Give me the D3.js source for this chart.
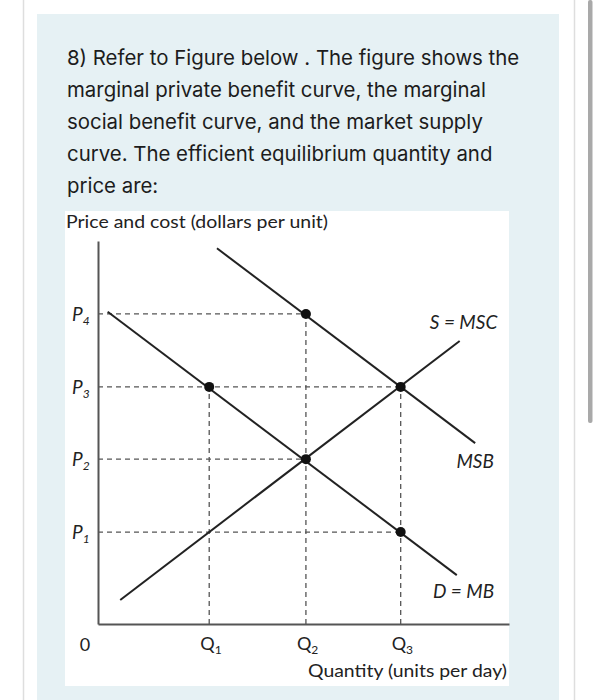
<!DOCTYPE html>
<html>
<head>
<meta charset="utf-8">
<script src="https://cdn.jsdelivr.net/npm/d3@7"></script>
<style>
  html, body { margin: 0; padding: 0; background: #fff; }
  svg { display: block; }
</style>
</head>
<body>
<svg id="chart" width="597" height="700"></svg>
<script>
// ---- data ----
const questionLines = [
  "8) Refer to Figure below . The figure shows the",
  "marginal private benefit curve, the marginal",
  "social benefit curve, and the market supply",
  "curve. The efficient equilibrium quantity and",
  "price are:"
];
const yTitle = "Price and cost (dollars per unit)";
const xTitle = "Quantity (units per day)";
const qLabels = ["1", "2", "3"];           // subscripts of Q
const qValues = [1.15, 2.15, 3.13];
const pLabels = ["1", "2", "3", "4"];      // subscripts of P
const pValues = [1.26, 2.26, 3.25, 4.25];
const msbLine = [[1.23, 5.15], [3.90, 2.48]];
const mbLine  = [[0.10, 4.28], [3.71, 0.67]];
const mscLine = [[0.23, 0.33], [3.74, 3.88]];
const dots = [[1.15, 3.25], [2.15, 4.25], [2.15, 2.26], [3.13, 3.25], [3.13, 1.26]];
const hGuides = [[4.25, 2.15], [3.25, 3.13], [2.26, 2.15], [1.26, 3.13]]; // [price, up to quantity]
const vGuides = [[1.15, 3.25], [2.15, 4.25], [3.13, 3.25]];               // [quantity, up to price]
const curveLabels = [
  {text: "S = MSC", x: 3.78, y: 4.05},
  {text: "MSB",     x: 3.90, y: 2.14},
  {text: "D = MB",  x: 3.78, y: 0.36}
];

const svg = d3.select("#chart");

// page chrome
svg.append("rect").attr("x", 0).attr("y", 0).attr("width", 597).attr("height", 700).attr("fill", "#fff");
svg.append("rect").attr("x", 37).attr("y", 14).attr("width", 522).attr("height", 700).attr("fill", "#e6f1f4");
svg.append("line").attr("x1", 23.5).attr("x2", 23.5).attr("y1", 0).attr("y2", 700).attr("stroke", "#dedede").attr("stroke-width", 1.5);
svg.append("line").attr("x1", 574.5).attr("x2", 574.5).attr("y1", 0).attr("y2", 700).attr("stroke", "#dedede").attr("stroke-width", 1.5);
svg.append("rect").attr("x", 588).attr("y", 0).attr("width", 4.5).attr("height", 423).attr("rx", 2).attr("fill", "#a9a9a9");

// question text
svg.append("g").selectAll("text").data(questionLines).join("text")
  .attr("x", 67).attr("y", (d, i) => 65 + i * 32)
  .attr("font-family", "Inter, Roboto, 'Noto Sans', sans-serif")
  .attr("font-size", 20.4).attr("fill", "#1c1c1c")
  .text(d => d);

// white figure box
svg.append("rect").attr("x", 65).attr("y", 211).attr("width", 444).attr("height", 475).attr("fill", "#fff");

const font = "Lato, 'Open Sans', sans-serif";
const ink = "#222";

svg.append("text").attr("x", 66).attr("y", 228)
  .attr("font-family", font).attr("font-size", 17.5).attr("fill", ink)
  .attr("textLength", 262).attr("lengthAdjust", "spacingAndGlyphs")
  .text(yTitle);

// scales
const x = d3.scaleLinear().domain([0, 4.25]).range([98, 509]);
const y = d3.scaleLinear().domain([0, 5.25]).range([624, 241]);

// guides
const g = svg.append("g");
g.selectAll(".hg").data(hGuides).join("line")
  .attr("x1", x(0)).attr("x2", d => x(d[1]))
  .attr("y1", d => y(d[0])).attr("y2", d => y(d[0]))
  .attr("stroke", "#555").attr("stroke-width", 1.3).attr("stroke-dasharray", "5,4");
g.selectAll(".vg").data(vGuides).join("line")
  .attr("x1", d => x(d[0])).attr("x2", d => x(d[0]))
  .attr("y1", y(0)).attr("y2", d => y(d[1]))
  .attr("stroke", "#555").attr("stroke-width", 1.3).attr("stroke-dasharray", "5,4");

// axes
const yAxis = svg.append("g").attr("transform", `translate(${x(0)},0)`)
  .call(d3.axisLeft(y).tickValues(pValues).tickSize(0).tickSizeOuter(0).tickFormat(() => ""));
const xAxis = svg.append("g").attr("transform", `translate(0,${y(0)})`)
  .call(d3.axisBottom(x).tickValues(qValues).tickSize(0).tickSizeOuter(0).tickFormat(() => ""));
[yAxis, xAxis].forEach(a => {
  a.select(".domain").attr("stroke", "#555").attr("stroke-width", 2);
});

// tick labels with subscripts
const pl = svg.append("g").selectAll("text").data(pValues).join("text")
  .attr("x", 72).attr("y", d => y(d) + 7)
  .attr("font-family", font).attr("font-size", 19).attr("font-style", "italic").attr("fill", ink);
pl.append("tspan").text("P");
pl.append("tspan").attr("font-size", 12).attr("dy", 4).text((d, i) => pLabels[i]);

const ql = svg.append("g").selectAll("text").data(qValues).join("text")
  .attr("x", d => x(d) - 9).attr("y", 650)
  .attr("font-family", font).attr("font-size", 18).attr("fill", ink);
ql.append("tspan").text("Q");
ql.append("tspan").attr("font-size", 12).attr("dy", 4).text((d, i) => qLabels[i]);

svg.append("text").attr("x", 85).attr("y", 651).attr("text-anchor", "middle")
  .attr("font-family", font).attr("font-size", 18).attr("fill", ink).text("0");

svg.append("text").attr("x", 507).attr("y", 677).attr("text-anchor", "end")
  .attr("font-family", font).attr("font-size", 17.5).attr("fill", ink)
  .attr("textLength", 199).attr("lengthAdjust", "spacingAndGlyphs").text(xTitle);

// curves
const line = d3.line().x(d => x(d[0])).y(d => y(d[1]));
[msbLine, mbLine, mscLine].forEach(c => {
  svg.append("path").attr("d", line(c)).attr("fill", "none")
    .attr("stroke", ink).attr("stroke-width", 2);
});

// dots
svg.append("g").selectAll("circle").data(dots).join("circle")
  .attr("cx", d => x(d[0])).attr("cy", d => y(d[1])).attr("r", 5).attr("fill", "#111");

// curve labels
svg.append("g").selectAll("text").data(curveLabels).join("text")
  .attr("x", d => x(d.x)).attr("y", d => y(d.y)).attr("text-anchor", "middle")
  .attr("font-family", font).attr("font-size", 19).attr("font-style", "italic").attr("fill", ink)
  .text(d => d.text);
</script>
</body>
</html>
